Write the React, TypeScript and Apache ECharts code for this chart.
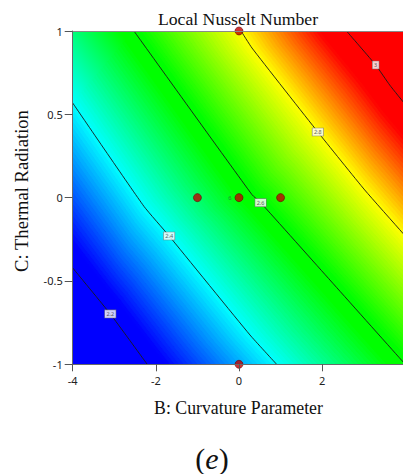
import { useEffect, useRef } from 'react';
import * as echarts from 'echarts';

// Axis ranges
const xMin = -4, xMax = 4, yMin = -1, yMax = 1;
const xInterval = 2, yInterval = 0.5;

// Contour levels and their label texts
const levels = [2.2, 2.4, 2.6, 2.8, 3.0];
const levelLabels = ['2.2', '2.4', '2.6', '2.8', '3'];

// Contour lines (B, C)
const contour22 = [[-4, -0.422], [-3.096, -0.698], [-2.208, -1]];
const contour24 = [[-4, 0.568], [-2.287, -0.052], [-1.68, -0.23], [0.264, -0.824], [0.905, -1]];
const contour26 = [[-2.527, 1], [0.312, 0.018], [0.521, -0.03], [2.208, -0.5], [3.905, -0.974], [4, -1]];
const contour28 = [[0.05, 1], [0.312, 0.898], [1.896, 0.394], [3.024, 0.046], [3.936, -0.212], [4, -0.23]];
const contour30 = [[2.585, 1], [3.288, 0.796], [3.624, 0.676], [4, 0.559]];
const contours = [contour22, contour24, contour26, contour28, contour30];

// Where each contour's value label sits
const labelPoints = [[-3.096, -0.698], [-1.68, -0.23], [0.52, -0.03], [1.896, 0.394], [3.288, 0.796]];

// Design points and replicate counts
const designPoints = [[0, 1], [-1, 0], [0, 0], [1, 0], [0, -1]];
const replicates = [1, 1, 6, 1, 1];

// Colour scale: response value -> colour
const scaleValues = [2.23, 2.4, 2.575, 2.61, 2.8, 2.95];
const scaleColors = ['#0000ff', '#00ffff', '#00ff00', '#00ff00', '#ffff00', '#ff0000'];

function hexToRgb(h: string) {
  return [parseInt(h.slice(1, 3), 16), parseInt(h.slice(3, 5), 16), parseInt(h.slice(5, 7), 16)];
}

function colorAt(v: number) {
  const n = scaleValues.length;
  if (v <= scaleValues[0]) return scaleColors[0];
  if (v >= scaleValues[n - 1]) return scaleColors[n - 1];
  for (let i = 0; i < n - 1; i++) {
    if (v <= scaleValues[i + 1]) {
      const t = (v - scaleValues[i]) / (scaleValues[i + 1] - scaleValues[i]);
      const a = hexToRgb(scaleColors[i]);
      const b = hexToRgb(scaleColors[i + 1]);
      const c = a.map((x, k) => Math.round(x + (b[k] - x) * t));
      return `rgb(${c[0]},${c[1]},${c[2]})`;
    }
  }
  return scaleColors[n - 1];
}

function bandStops(lo: number, hi: number) {
  const stops = [{ offset: 0, color: colorAt(lo) }];
  scaleValues.forEach((s, i) => {
    if (s > lo && s < hi) stops.push({ offset: (s - lo) / (hi - lo), color: scaleColors[i] });
  });
  stops.push({ offset: 1, color: colorAt(hi) });
  return stops;
}

const rev = (a: number[][]) => a.slice().reverse();

type Band = { poly: number[][]; solid?: string; lower?: number[][]; upper?: number[][]; lo?: number; hi?: number };

const bands: Band[] = [
  { poly: [...contour22, [xMin, yMin]], solid: colorAt(levels[0] - 0.1) },
  { poly: [...contour24, ...rev(contour22)], lower: contour22, upper: contour24, lo: levels[0], hi: levels[1] },
  { poly: [...contour26, [xMax, yMin], ...rev(contour24), [xMin, yMax]], lower: contour24, upper: contour26, lo: levels[1], hi: levels[2] },
  { poly: [...contour28, ...rev(contour26)], lower: contour26, upper: contour28, lo: levels[2], hi: levels[3] },
  { poly: [...contour30, ...rev(contour28)], lower: contour28, upper: contour30, lo: levels[3], hi: levels[4] },
  { poly: [...contour30, [xMax, yMax]], solid: colorAt(levels[4] + 0.1) },
];

// ---- geometry helpers for shading between two contour lines ----
function dist(a: number[], b: number[]) {
  return Math.hypot(b[0] - a[0], b[1] - a[1]);
}

function cumFractions(pts: number[][]) {
  const cum = [0];
  for (let i = 1; i < pts.length; i++) cum.push(cum[i - 1] + dist(pts[i - 1], pts[i]));
  const total = cum[cum.length - 1] || 1;
  return cum.map((c) => c / total);
}

function pointAt(pts: number[][], fr: number[], f: number) {
  for (let i = 0; i < pts.length - 1; i++) {
    if (f <= fr[i + 1] || i === pts.length - 2) {
      const span = fr[i + 1] - fr[i];
      const t = span === 0 ? 0 : Math.max(0, Math.min(1, (f - fr[i]) / span));
      return [pts[i][0] + (pts[i + 1][0] - pts[i][0]) * t, pts[i][1] + (pts[i + 1][1] - pts[i][1]) * t];
    }
  }
  return pts[pts.length - 1];
}

function closestOnPolyline(pts: number[][], p: number[]) {
  let best = pts[0];
  let bestD = Infinity;
  for (let i = 0; i < pts.length - 1; i++) {
    const a = pts[i], b = pts[i + 1];
    const vx = b[0] - a[0], vy = b[1] - a[1];
    const len2 = vx * vx + vy * vy;
    let t = len2 === 0 ? 0 : ((p[0] - a[0]) * vx + (p[1] - a[1]) * vy) / len2;
    t = Math.max(0, Math.min(1, t));
    const q = [a[0] + vx * t, a[1] + vy * t];
    const d = dist(p, q);
    if (d < bestD) {
      bestD = d;
      best = q;
    }
  }
  return best;
}

const STRIPS = 28;
const SAMPLES = 24;

function shadeBand(lowerPx: number[][], upperPx: number[][], lo: number, hi: number) {
  const fl = cumFractions(lowerPx);
  const fu = cumFractions(upperPx);
  const params: number[] = [...fl, ...fu];
  for (let k = 0; k <= SAMPLES; k++) params.push(k / SAMPLES);
  const S = Array.from(new Set(params.map((v) => Math.round(v * 10000) / 10000))).sort((a, b) => a - b);
  const L = S.map((s) => pointAt(lowerPx, fl, s));
  const U = S.map((s) => pointAt(upperPx, fu, s));
  const mid = (t: number) => L.map((p, i) => [p[0] + (U[i][0] - p[0]) * t, p[1] + (U[i][1] - p[1]) * t]);
  const children: any[] = [];
  for (let i = 0; i < STRIPS; i++) {
    const a = mid(i / STRIPS);
    const b = mid((i + 1) / STRIPS);
    const c = colorAt(lo + ((hi - lo) * (i + 0.5)) / STRIPS);
    children.push({
      type: 'polygon',
      shape: { points: [...a, ...rev(b)] },
      style: { fill: c, stroke: c, lineWidth: 0.8 },
    });
  }
  return children;
}

export default function App() {
  const ref = useRef<HTMLDivElement>(null);

  useEffect(() => {
    if (!ref.current) return;
    const chart = echarts.init(ref.current, undefined, { renderer: 'svg' });

    const serif = 'Liberation Serif, Times New Roman, serif';
    const sans = 'Noto Sans, Open Sans, sans-serif';

    const contourSeries = contours.map((c, i) => ({
      type: 'line',
      name: levelLabels[i],
      data: c,
      symbol: 'none',
      smooth: 0.15,
      silent: true,
      z: 3,
      lineStyle: { color: '#1a1a1a', width: 0.9 },
    }));

    const option: any = {
      animation: false,
      grid: {
        left: 72.7,
        top: 31,
        right: -2.3,
        bottom: 109.7,
        outerBoundsMode: 'none',
        containLabel: false,
      },
      xAxis: [
        {
          type: 'value',
          min: xMin,
          max: xMax,
          interval: xInterval,
          position: 'bottom',
          z: 10,
          axisLine: { show: true, onZero: false, lineStyle: { color: '#6a6a6a', width: 1 } },
          axisTick: { show: true, length: 7, lineStyle: { color: '#555' } },
          axisLabel: { fontFamily: sans, fontSize: 11, color: '#222', margin: 11, showMaxLabel: false },
          splitLine: { show: false },
        },
        {
          type: 'value',
          min: xMin,
          max: xMax,
          position: 'top',
          z: 10,
          axisLine: { show: true, onZero: false, lineStyle: { color: '#8a8a8a', width: 1 } },
          axisTick: { show: false },
          axisLabel: { show: false },
          splitLine: { show: false },
        },
      ],
      yAxis: [
        {
          type: 'value',
          min: yMin,
          max: yMax,
          interval: yInterval,
          position: 'left',
          z: 10,
          axisLine: { show: true, onZero: false, lineStyle: { color: '#6a6a6a', width: 1 } },
          axisTick: { show: true, length: 8, lineStyle: { color: '#555' } },
          axisLabel: { fontFamily: sans, fontSize: 11, color: '#222', margin: 10 },
          splitLine: { show: false },
        },
        {
          type: 'value',
          min: yMin,
          max: yMax,
          position: 'right',
          z: 10,
          axisLine: { show: true, onZero: false, lineStyle: { color: '#8a8a8a', width: 1 } },
          axisTick: { show: false },
          axisLabel: { show: false },
          splitLine: { show: false },
        },
      ],
      series: [
        {
          type: 'custom',
          coordinateSystem: 'cartesian2d',
          silent: true,
          clip: true,
          z: 1,
          data: bands.map((_, i) => [i]),
          renderItem: (params: any, api: any) => {
            const band = bands[params.dataIndex];
            const pts = band.poly.map((p) => api.coord(p));
            if (band.solid || !band.lower || !band.upper) {
              return { type: 'polygon', shape: { points: pts }, style: { fill: band.solid, stroke: band.solid, lineWidth: 0.8 } };
            }
            const lowerPx = band.lower.map((p) => api.coord(p));
            const upperPx = band.upper.map((p) => api.coord(p));
            const fl = cumFractions(lowerPx);
            const a = pointAt(lowerPx, fl, 0.5);
            const b = closestOnPolyline(upperPx, a);
            const base = {
              type: 'polygon',
              shape: { points: pts },
              style: {
                fill: new echarts.graphic.LinearGradient(a[0], a[1], b[0], b[1], bandStops(band.lo as number, band.hi as number), true),
                stroke: null,
              },
            };
            return {
              type: 'group',
              children: [base, ...shadeBand(lowerPx, upperPx, band.lo as number, band.hi as number)],
            };
          },
        },
        ...contourSeries,
        {
          type: 'scatter',
          silent: true,
          z: 5,
          symbolSize: 1,
          itemStyle: { color: 'rgba(0,0,0,0)' },
          data: labelPoints.map((p, i) => ({ value: p, name: levelLabels[i] })),
          label: {
            show: true,
            position: 'inside',
            formatter: '{b}',
            fontFamily: sans,
            fontSize: 5.5,
            color: '#333',
            backgroundColor: '#ffffff',
            borderColor: '#777',
            borderWidth: 0.6,
            padding: [1, 1.5, 0.5, 1.5],
          },
        },
        {
          type: 'scatter',
          silent: true,
          z: 6,
          symbolSize: 8,
          itemStyle: { color: '#c00000', borderColor: '#5c0000', borderWidth: 0.7 },
          data: designPoints.map((p, i) => ({
            value: p,
            label:
              replicates[i] > 1
                ? {
                    show: true,
                    formatter: String(replicates[i]),
                    position: 'left',
                    distance: 3,
                    fontSize: 6,
                    fontFamily: sans,
                    color: '#3a5a3a',
                  }
                : { show: false },
          })),
        },
      ],
      graphic: [
        {
          type: 'text',
          x: 238,
          y: 19,
          style: {
            text: 'Local Nusselt Number',
            font: `17.7px ${serif}`,
            fill: '#111',
            align: 'center',
            verticalAlign: 'middle',
            textAlign: 'center',
            textVerticalAlign: 'middle',
          },
        },
        {
          type: 'text',
          x: 238.5,
          y: 408,
          style: {
            text: 'B: Curvature Parameter',
            font: `17.8px ${serif}`,
            fill: '#111',
            align: 'center',
            verticalAlign: 'middle',
            textAlign: 'center',
            textVerticalAlign: 'middle',
          },
        },
        {
          type: 'text',
          x: 21.7,
          y: 191,
          rotation: Math.PI / 2,
          style: {
            text: 'C: Thermal Radiation',
            font: `18.6px ${serif}`,
            fill: '#111',
            align: 'center',
            verticalAlign: 'middle',
            textAlign: 'center',
            textVerticalAlign: 'middle',
          },
        },
        {
          type: 'text',
          x: 212,
          y: 458,
          style: {
            text: '{a|(}{b|e}{a|)}',
            rich: {
              a: { fontFamily: serif, fontSize: 30, fill: '#111', color: '#111' },
              b: { fontFamily: serif, fontSize: 30, fontStyle: 'italic', fill: '#111', color: '#111' },
            },
            font: `30px ${serif}`,
            fill: '#111',
            align: 'center',
            verticalAlign: 'middle',
            textAlign: 'center',
            textVerticalAlign: 'middle',
          },
        },
      ],
    };

    chart.setOption(option);
    return () => chart.dispose();
  }, []);

  return (
    <div
      ref={ref}
      style={{ position: 'absolute', left: 0, top: 0, width: 403, height: 474, background: '#fff' }}
    />
  );
}
